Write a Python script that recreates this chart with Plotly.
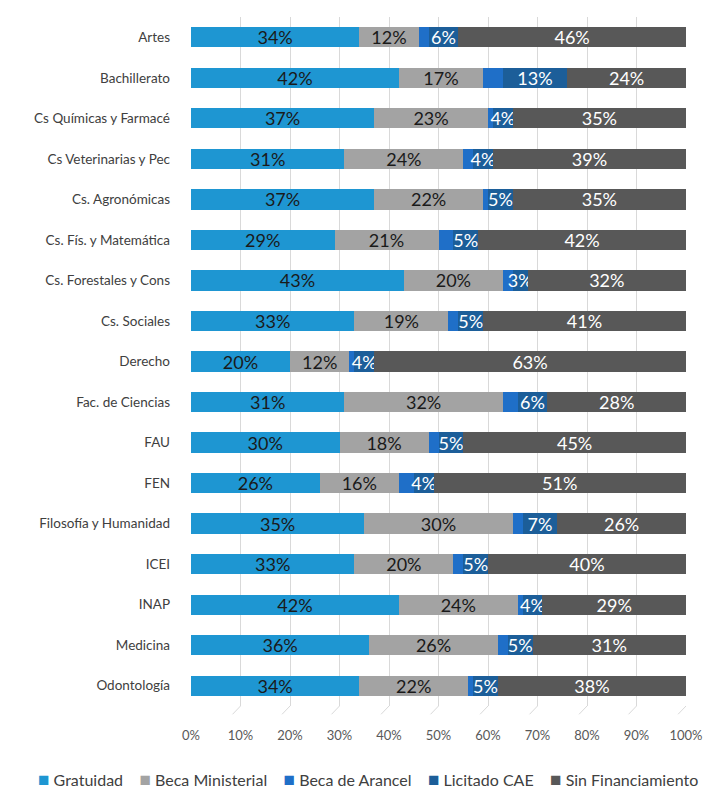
import plotly.graph_objects as go

categories = ["Artes", "Bachillerato", "Cs Químicas y Farmacé", "Cs Veterinarias y Pec",
              "Cs. Agronómicas", "Cs. Fís. y Matemática", "Cs. Forestales y Cons",
              "Cs. Sociales", "Derecho", "Fac. de Ciencias", "FAU", "FEN",
              "Filosofía y Humanidad", "ICEI", "INAP", "Medicina", "Odontología"]

gratuidad = [34, 42, 37, 31, 37, 29, 43, 33, 20, 31, 30, 26, 35, 33, 42, 36, 34]
beca_ministerial = [12, 17, 23, 24, 22, 21, 20, 19, 12, 32, 18, 16, 30, 20, 24, 26, 22]
beca_arancel = [2, 4, 1, 2, 1, 3, 2, 2, 1, 3, 2, 3, 2, 2, 1, 2, 1]
licitado_cae = [6, 13, 4, 4, 5, 5, 3, 5, 4, 6, 5, 4, 7, 5, 4, 5, 5]
sin_financiamiento = [46, 24, 35, 39, 35, 42, 32, 41, 63, 28, 45, 51, 26, 40, 29, 31, 38]

x_ticks = [0, 10, 20, 30, 40, 50, 60, 70, 80, 90, 100]
x_tick_labels = [f"{v}%" for v in x_ticks]

series = [
    ("Gratuidad", gratuidad, "#1E96D2", "#1a1a1a", True),
    ("Beca Ministerial", beca_ministerial, "#A3A3A3", "#1a1a1a", True),
    ("Beca de Arancel", beca_arancel, "#1F6FC8", "#ffffff", False),
    ("Licitado CAE", licitado_cae, "#1C5E99", "#ffffff", True),
    ("Sin Financiamiento", sin_financiamiento, "#585858", "#ffffff", True),
]

FONT = "Lato, 'Open Sans', sans-serif"

fig = go.Figure()
for name, vals, color, tcolor, show in series:
    fig.add_trace(go.Bar(
        name=name, y=categories, x=vals, orientation="h",
        marker=dict(color=color, line=dict(width=0)),
        text=[f"{v}%" for v in vals] if show else None,
        textposition="inside" if show else "none",
        insidetextanchor="middle",
        textangle=0,
        constraintext="none",
        textfont=dict(family=FONT, size=18, color=tcolor),
        hoverinfo="skip",
        cliponaxis=False,
        showlegend=False,
    ))

shapes = []
for t in x_ticks:
    shapes.append(dict(type="line", xref="x", yref="paper", x0=t, x1=t - 1.6,
                       y0=0, y1=-0.012, line=dict(color="#d9d9d9", width=1)))

NB = "\u00a0"
legend_text = (NB * 4).join(
    f"<span style='color:{color};font-size:19px'>■</span>{NB}{name}"
    for name, _, color, _, _ in series
)

fig.update_layout(
    barmode="stack",
    bargap=0.5,
    width=704, height=793,
    margin=dict(l=191, r=18, t=17, b=87, autoexpand=False),
    plot_bgcolor="white", paper_bgcolor="white",
    font=dict(family=FONT, color="#404040"),
    xaxis=dict(range=[0, 100], tickvals=x_ticks, ticktext=x_tick_labels,
               showgrid=True, gridcolor="#d9d9d9", gridwidth=1, zeroline=False,
               showline=False, ticks="", ticklabelstandoff=20, automargin=False,
               ticklabeloverflow="allow",
               tickfont=dict(size=13, color="#595959", family=FONT)),
    yaxis=dict(categoryorder="array", categoryarray=categories, autorange="reversed",
               showgrid=False, zeroline=False, showline=False, ticks="",
               ticklabelstandoff=20, automargin=False,
               tickfont=dict(size=13.5, color="#404040", family=FONT)),
    annotations=[dict(text=legend_text, xref="paper", yref="paper",
                      x=0.358, y=-0.1045, xanchor="center", yanchor="middle",
                      showarrow=False,
                      font=dict(size=16, color="#404040", family=FONT))],
    shapes=shapes,
    showlegend=False,
)

fig.write_html("out.html", config={"displayModeBar": False},
               post_script="document.body.style.margin='0';")
